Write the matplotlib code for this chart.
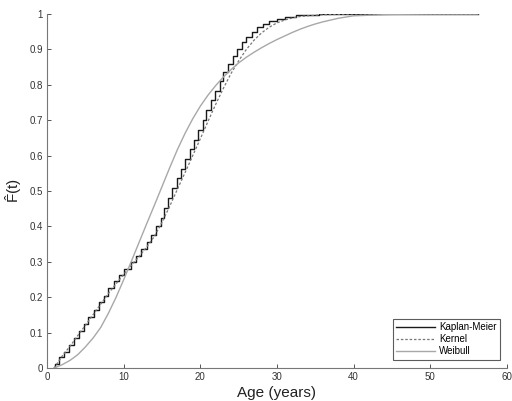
import matplotlib
matplotlib.use("Agg")
import matplotlib.pyplot as plt

plt.rcParams['font.family'] = ['Liberation Sans', 'DejaVu Sans']
plt.rcParams['mathtext.fontset'] = 'custom'
plt.rcParams['mathtext.rm'] = 'Liberation Sans'
plt.rcParams['mathtext.it'] = 'Liberation Sans'

# Kaplan-Meier step function (time, F)
km_t = [0.9, 1.0, 1.6, 2.2, 2.9, 3.5, 4.1, 4.8, 5.4, 6.1, 6.8, 7.4, 8.0, 8.7,
        9.4, 10.1, 10.9, 11.6, 12.3, 13.0, 13.6, 14.2, 14.8, 15.3, 15.8,
        16.3, 16.9, 17.5, 18.0, 18.6, 19.2, 19.7, 20.3, 20.8, 21.4, 21.9,
        22.5, 23.0, 23.6, 24.2, 24.8, 25.4, 26.0, 26.7, 27.4, 28.2, 29.0,
        30.0, 31.0, 32.5, 34.0, 35.5, 56.2]
km_F = [0.0, 0.012, 0.030, 0.046, 0.066, 0.085, 0.104, 0.124, 0.144, 0.165,
        0.186, 0.205, 0.226, 0.245, 0.262, 0.281, 0.300, 0.318, 0.336, 0.355,
        0.376, 0.400, 0.425, 0.452, 0.480, 0.508, 0.536, 0.563, 0.590, 0.618,
        0.645, 0.672, 0.700, 0.728, 0.756, 0.784, 0.810, 0.836, 0.860, 0.882,
        0.902, 0.920, 0.936, 0.950, 0.962, 0.972, 0.980, 0.987, 0.992, 0.996,
        0.998, 1.0, 1.0]

# Kernel smoothed estimate
ker_t = [0.9, 2, 3, 4, 5, 6, 7, 8, 9, 10, 11, 12, 13, 14, 15, 16, 17, 18,
         19, 20, 21, 22, 23, 24, 25, 26, 27, 28, 29, 30, 31, 32, 33, 34, 36,
         38, 40, 45, 50, 56.2]
ker_F = [0.0, 0.035, 0.062, 0.092, 0.121, 0.151, 0.181, 0.211, 0.238, 0.265,
         0.291, 0.315, 0.342, 0.372, 0.412, 0.457, 0.505, 0.552, 0.600, 0.648,
         0.697, 0.745, 0.790, 0.832, 0.868, 0.900, 0.926, 0.947, 0.963, 0.975,
         0.983, 0.989, 0.993, 0.995, 0.998, 0.999, 1.0, 1.0, 1.0, 1.0]

# Weibull fit
wb_t = [0.9, 2, 3, 4, 5, 6, 7, 8, 9, 10, 11, 12, 13, 14, 15, 16, 17, 18, 19,
        20, 21, 22, 23, 24, 25, 26, 27, 28, 29, 30, 31, 32, 33, 34, 35, 36,
        38, 40, 45, 50, 56.2]
wb_F = [0.0, 0.010, 0.022, 0.038, 0.060, 0.085, 0.115, 0.155, 0.200, 0.250,
        0.302, 0.355, 0.408, 0.460, 0.513, 0.566, 0.617, 0.663, 0.704, 0.740,
        0.771, 0.798, 0.822, 0.843, 0.862, 0.878, 0.892, 0.905, 0.917, 0.928,
        0.938, 0.948, 0.957, 0.965, 0.972, 0.978, 0.988, 0.995, 0.999, 1.0,
        1.0]

fig = plt.figure(figsize=(5.12, 4.01), dpi=100)
ax = fig.add_axes([0.092, 0.082, 0.898, 0.883])

ax.step(km_t, km_F, where='post', color='#1a1a1a', lw=1.0, label='Kaplan-Meier')
ax.plot(ker_t, ker_F, color='#777777', lw=0.9, ls=(0, (2, 1.5)), label='Kernel')
ax.plot(wb_t, wb_F, color='#a8a8a8', lw=1.0, label='Weibull')

ax.set_xlim(0, 60)
ax.set_ylim(0, 1)
ax.set_xticks([0, 10, 20, 30, 40, 50, 60])
ax.set_yticks([0, 0.1, 0.2, 0.3, 0.4, 0.5, 0.6, 0.7, 0.8, 0.9, 1])
ax.set_yticklabels(['0', '0.1', '0.2', '0.3', '0.4', '0.5', '0.6', '0.7',
                    '0.8', '0.9', '1'])
ax.tick_params(direction='in', length=3, width=0.7, labelsize=7,
               colors='#555555', labelcolor='#333333', pad=3)
for s in ['top', 'right']:
    ax.spines[s].set_visible(False)
for s in ['left', 'bottom']:
    ax.spines[s].set_color('#777777')
    ax.spines[s].set_linewidth(0.8)

ax.set_xlabel('Age (years)', fontsize=11, color='#222222', labelpad=3)
ax.set_ylabel(r'$\hat{\mathrm{F}}$(t)', fontsize=11, color='#222222', labelpad=4)

leg = ax.legend(loc='lower right', fontsize=7, frameon=True, fancybox=False,
                edgecolor='#333333', handlelength=4.0, borderpad=0.35,
                labelspacing=0.2, handletextpad=0.4,
                bbox_to_anchor=(0.995, 0.01))
leg.get_frame().set_linewidth(0.8)

fig.savefig('out.png', dpi=100)
